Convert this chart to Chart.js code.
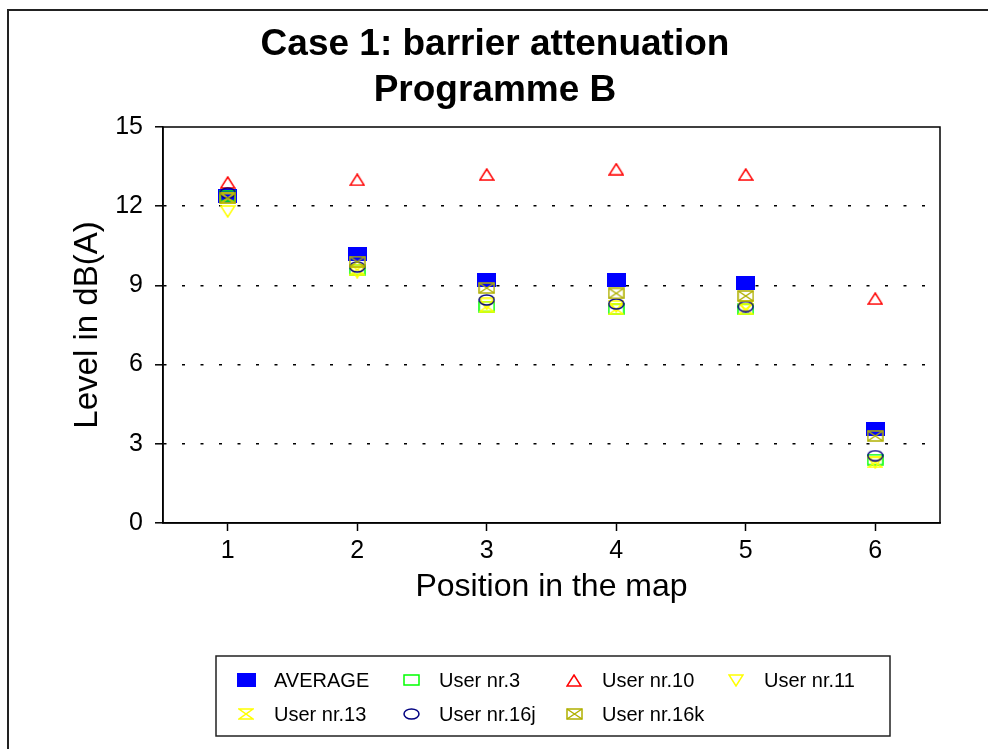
<!DOCTYPE html>
<html>
<head>
<meta charset="utf-8">
<title>Case 1: barrier attenuation</title>
<script src="https://cdn.jsdelivr.net/npm/chart.js@4.4.1/dist/chart.umd.min.js"></script>
<style>
  html, body { margin: 0; padding: 0; background: #fff; }
  #chart { display: block; }
</style>
</head>
<body>
<canvas id="chart" width="988" height="749"></canvas>
<script>
// positions on the map (x categories)
const positions = [1, 2, 3, 4, 5, 6];
const yTicks = [0, 3, 6, 9, 12, 15];

// levels in dB(A)
const average  = [12.4, 10.2, 9.2, 9.2, 9.1, 3.55];
const user3    = [12.4, 9.6, 8.2, 8.1, 8.1, 2.4];
const user10   = [12.9, 13.0, 13.2, 13.4, 13.2, 8.5];
const user11   = [11.8, 9.5, 8.3, 8.2, 8.2, 2.3];
const user13   = [12.3, 9.6, 8.2, 8.1, 8.1, 2.3];
const user16j  = [12.5, 9.7, 8.45, 8.3, 8.2, 2.55];
const user16k  = [12.3, 9.9, 8.9, 8.7, 8.6, 3.3];

const FONT = "'Liberation Sans', Arial, Helvetica, sans-serif";
Chart.defaults.font.family = FONT;
Chart.defaults.color = '#000';

// small canvases used as point styles (markers are a bit wider than tall)
function makeMarker(kind, color, w, h) {
    const c = document.createElement('canvas');
    c.width = w;
    c.height = h;
    const g = c.getContext('2d');
    g.strokeStyle = color;
    g.fillStyle = color;
    g.lineWidth = 1.5;
    const l = 1, t = 1, r = w - 1, b = h - 1;
    g.beginPath();
    switch (kind) {
        case 'fill':
            g.fillRect(0, 0, w, h);
            break;
        case 'rect':
            g.strokeRect(l, t, r - l, b - t);
            break;
        case 'tri':
            g.moveTo(w / 2, t); g.lineTo(r, b); g.lineTo(l, b); g.closePath(); g.stroke();
            break;
        case 'triDown':
            g.moveTo(l, t); g.lineTo(r, t); g.lineTo(w / 2, b); g.closePath(); g.stroke();
            break;
        case 'hourglass':
            g.moveTo(l, t); g.lineTo(r, t); g.lineTo(l, b); g.lineTo(r, b); g.closePath(); g.stroke();
            break;
        case 'ellipse':
            g.ellipse(w / 2, h / 2, w / 2 - 1, h / 2 - 1, 0, 0, Math.PI * 2); g.stroke();
            break;
        case 'xbox':
            g.strokeRect(l, t, r - l, b - t);
            g.moveTo(l, t); g.lineTo(r, b); g.moveTo(r, t); g.lineTo(l, b); g.stroke();
            break;
    }
    return c;
}

function toPoints(values) {
    return positions.map((p, i) => ({ x: p, y: values[i] }));
}

const series = [
    { label: 'AVERAGE',     data: average, marker: makeMarker('fill', '#0000ff', 19, 14) },
    { label: 'User nr.3',   data: user3,   marker: makeMarker('rect', '#00ff00', 17, 12) },
    { label: 'User nr.10',  data: user10,  marker: makeMarker('tri', '#ff0000', 16, 13) },
    { label: 'User nr.11',  data: user11,  marker: makeMarker('triDown', '#ffff00', 16, 13) },
    { label: 'User nr.13',  data: user13,  marker: makeMarker('hourglass', '#ffff00', 16, 12) },
    { label: 'User nr.16j', data: user16j, marker: makeMarker('ellipse', '#000080', 17, 12) },
    { label: 'User nr.16k', data: user16k, marker: makeMarker('xbox', '#b0b000', 17, 12) }
];

const datasets = series.map((s, i) => ({
    label: s.label,
    data: toPoints(s.data),
    pointStyle: s.marker,
    showLine: false,
    // AVERAGE at the bottom, later users on top
    order: series.length - i
}));

// frame of the plot, outer border and boxed legend
const decorations = {
    id: 'decorations',
    afterDraw(chart) {
        const ctx = chart.ctx;
        const a = chart.chartArea;
        ctx.save();
        ctx.strokeStyle = '#000';
        ctx.lineWidth = 1.5;
        ctx.strokeRect(a.left, a.top, a.right - a.left, a.bottom - a.top);

        ctx.strokeStyle = '#222';
        ctx.lineWidth = 2;
        ctx.strokeRect(8, 10, 1100, 900);

        // legend box
        ctx.lineWidth = 1.5;
        ctx.strokeStyle = '#222';
        ctx.strokeRect(216, 656, 674, 80);
        const colX = [246, 411, 574, 736];
        const rowY = [680, 714];
        ctx.font = '20px ' + FONT;
        ctx.fillStyle = '#000';
        ctx.textBaseline = 'middle';
        ctx.textAlign = 'left';
        series.forEach((s, i) => {
            const cx = colX[i % 4];
            const cy = rowY[Math.floor(i / 4)];
            const m = s.marker;
            ctx.drawImage(m, Math.round(cx - m.width / 2), Math.round(cy - m.height / 2));
            ctx.fillText(s.label, cx + 28, cy + 1);
        });
        ctx.restore();
    }
};

new Chart(document.getElementById('chart'), {
    type: 'scatter',
    data: { datasets: datasets },
    plugins: [decorations],
    options: {
        responsive: false,
        animation: false,
        layout: { padding: { left: 50, right: 48, top: 0, bottom: 139 } },
        plugins: {
            legend: { display: false },
            tooltip: { enabled: false },
            title: {
                display: true,
                text: ['Case 1: barrier attenuation', 'Programme B'],
                color: '#000',
                font: { size: 37, weight: 'bold', lineHeight: 46 / 37 },
                padding: { top: 22, bottom: 13 }
            }
        },
        scales: {
            x: {
                type: 'linear',
                min: 0.5,
                max: 6.5,
                afterBuildTicks: (scale) => { scale.ticks = positions.map(v => ({ value: v })); },
                afterFit: (scale) => { scale.height = 87; },
                ticks: { font: { size: 25 }, color: '#000', padding: 5 },
                grid: { drawOnChartArea: false, drawTicks: true, tickLength: 8, tickColor: '#000', tickWidth: 1.5 },
                border: { display: true, color: '#000', width: 1.5 },
                title: {
                    display: true,
                    text: 'Position in the map',
                    color: '#000',
                    font: { size: 32 },
                    padding: { top: 0, bottom: 4 }
                }
            },
            y: {
                min: 0,
                max: 15,
                afterBuildTicks: (scale) => { scale.ticks = yTicks.map(v => ({ value: v })); },
                afterFit: (scale) => { scale.width = 113; },
                ticks: { font: { size: 25 }, color: '#000', padding: 12 },
                grid: {
                    color: (c) => (c.tick && (c.tick.value === 0 || c.tick.value === 15)) ? 'rgba(0,0,0,0)' : '#000',
                    lineWidth: 1.6,
                    tickLength: 8,
                    tickColor: '#000',
                    tickWidth: 1.5
                },
                border: { display: true, color: '#000', width: 1.5, dash: [3, 15.5] },
                title: {
                    display: true,
                    text: 'Level in dB(A)',
                    color: '#000',
                    font: { size: 33 },
                    padding: { top: 18 }
                }
            }
        }
    }
});
</script>
</body>
</html>
